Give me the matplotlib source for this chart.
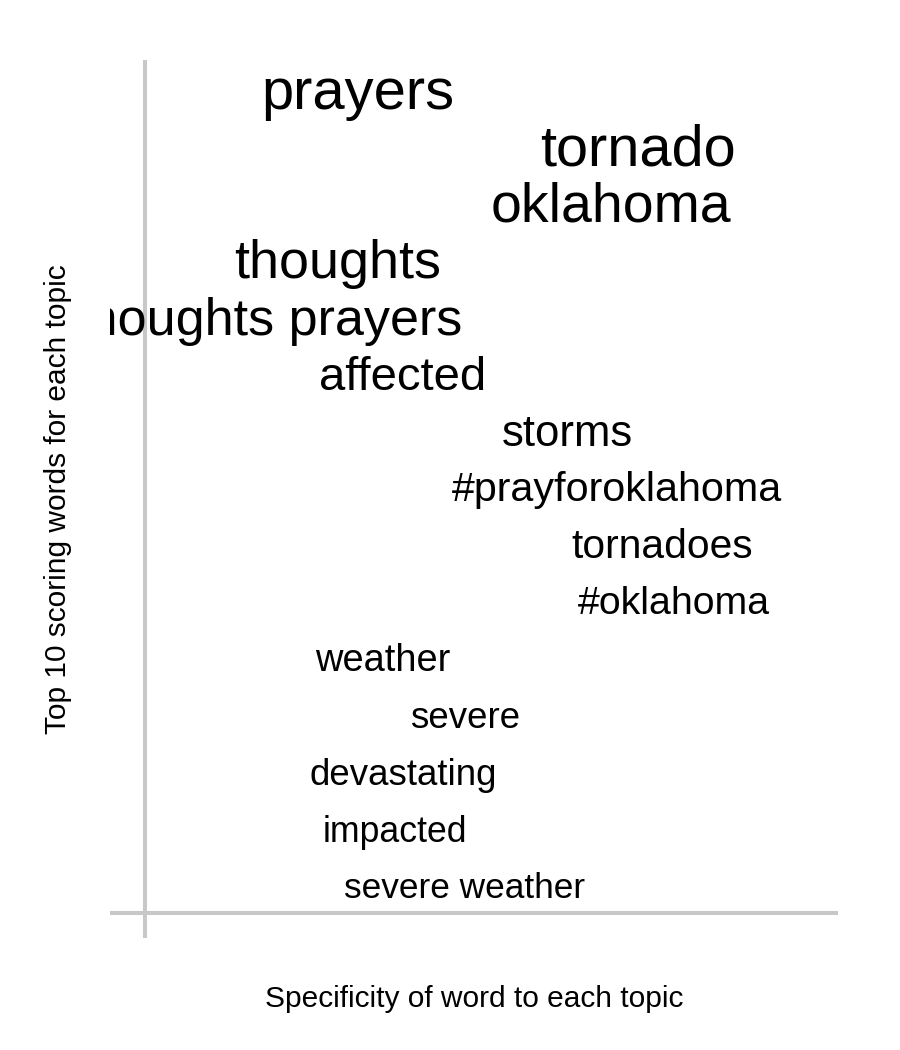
import matplotlib.pyplot as plt

plt.rcParams['font.family'] = ['Liberation Sans', 'DejaVu Sans']

# top words, their specificity and a size score (pt)
words = ["prayers", "tornado", "oklahoma", "thoughts", "thoughts prayers",
         "affected", "storms", "#prayforoklahoma", "tornadoes", "#oklahoma",
         "weather", "severe", "devastating", "impacted", "severe weather"]
specificity = [0.307, 0.711, 0.672, 0.278, 0.178,
               0.371, 0.610, 0.681, 0.747, 0.763,
               0.343, 0.462, 0.373, 0.361, 0.461]
score = [41.7, 41.6, 39.9, 38.8, 37.5,
         34.0, 31.5, 29.7, 29.3, 28.3,
         27.4, 26.4, 26.4, 25.7, 25.4]
rank = list(range(len(words), 0, -1))

fig = plt.figure(figsize=(9, 10.5), dpi=100)
ax = fig.add_axes([110 / 900, 112 / 1050, 728 / 900, 878 / 1050])

ax.axvline(0, color="#c8c8c8", lw=2.9, zorder=0)
ax.axhline(0.508, color="#c8c8c8", lw=2.9, zorder=0)

for w, x, y, s in zip(words, specificity, rank, score):
    ax.text(x, y, w, fontsize=s, ha="center", va="center_baseline",
            color="black", clip_on=True)

ax.set_xlim(-0.0505, 1.0)
ax.set_ylim(0.069, 15.49)

for sp in ax.spines.values():
    sp.set_visible(False)
ax.set_xticks([])
ax.set_yticks([])
ax.set_xlabel("Specificity of word to each topic", fontsize=21.5, labelpad=34)
ax.set_ylabel("Top 10 scoring words for each topic", fontsize=21.5, labelpad=27)

fig.savefig("out.png", dpi=100, facecolor="white")
